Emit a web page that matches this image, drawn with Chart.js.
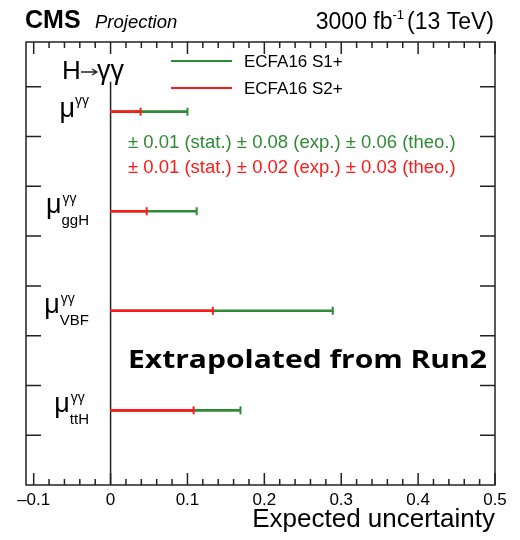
<!DOCTYPE html>
<html>
<head>
<meta charset="utf-8">
<script src="https://cdn.jsdelivr.net/npm/chart.js"></script>
<style>
html, body { margin: 0; padding: 0; background: #fff; }
</style>
</head>
<body>
<canvas id="chart" width="520" height="540"></canvas>
<script>
// measurements, top to bottom
const subscripts = ['', 'ggH', 'VBF', 'ttH'];
const rowPos = [3.75, 2.75, 1.75, 0.75];
const s1Values = [0.100, 0.112, 0.289, 0.169];
const s2Values = [0.039, 0.047, 0.133, 0.108];
const seriesNames = ['ECFA16 S1+', 'ECFA16 S2+'];
const breakdown = [
    '± 0.01 (stat.) ± 0.08 (exp.) ± 0.06 (theo.)',
    '± 0.01 (stat.) ± 0.02 (exp.) ± 0.03 (theo.)'
];
const xTicks = [-0.1, 0, 0.1, 0.2, 0.3, 0.4, 0.5];
const yTicks = [0.5, 1, 1.5, 2, 2.5, 3, 3.5, 4];

const GREEN = '#2f8a35';
const RED = '#ff1a1a';
const SANS = '"Liberation Sans", Arial, sans-serif';

const bars = (vals) => vals.map((v, i) => ({ x: [0, v], y: rowPos[i] }));
const caps = (vals) => vals.map((v, i) => ({ x: v, y: rowPos[i] }));

const deco = {
    id: 'deco',
    beforeDatasetsDraw(chart) {
        const { ctx, scales: { x, y } } = chart;
        ctx.save();
        ctx.strokeStyle = '#222';
        ctx.lineWidth = 1.5;
        const x0 = x.getPixelForValue(0);
        ctx.beginPath();
        ctx.moveTo(x0, y.getPixelForValue(4.05));
        ctx.lineTo(x0, y.bottom);
        ctx.stroke();
        ctx.restore();
    },
    afterDraw(chart) {
        const { ctx, chartArea: a, scales: { x, y } } = chart;
        ctx.save();

        // frame + ticks (ROOT style, pointing inward)
        ctx.strokeStyle = '#222';
        ctx.lineWidth = 1.5;
        ctx.strokeRect(a.left, a.top, a.right - a.left, a.bottom - a.top);
        ctx.beginPath();
        for (let i = -5; i <= 25; i++) {
            const px = x.getPixelForValue(i / 50);
            const len = i % 5 === 0 ? 12 : 6;
            ctx.moveTo(px, a.bottom); ctx.lineTo(px, a.bottom - len);
            ctx.moveTo(px, a.top); ctx.lineTo(px, a.top + len);
        }
        yTicks.forEach(v => {
            const py = y.getPixelForValue(v);
            ctx.moveTo(a.left, py); ctx.lineTo(a.left + 15, py);
            ctx.moveTo(a.right, py); ctx.lineTo(a.right - 15, py);
        });
        ctx.stroke();

        ctx.fillStyle = '#000';
        ctx.textBaseline = 'alphabetic';

        // header
        ctx.font = 'bold 25px ' + SANS;
        ctx.fillText('CMS', 25, 28);
        ctx.font = 'italic 18.5px ' + SANS;
        ctx.fillText('Projection', 95, 28);
        const big = '23px ' + SANS, small = '13px ' + SANS;
        ctx.font = big;
        const w1 = ctx.measureText('3000 fb').width;
        const w3 = ctx.measureText('(13 TeV)').width;
        ctx.font = small;
        const w2 = ctx.measureText('-1').width + 3;
        let hx = 494 - w1 - w2 - w3;
        ctx.font = big; ctx.fillText('3000 fb', hx, 29);
        ctx.font = small; ctx.fillText('-1', hx + w1, 19);
        ctx.font = big; ctx.fillText('(13 TeV)', hx + w1 + w2, 29);

        // H -> gamma gamma
        ctx.font = '26px ' + SANS;
        ctx.fillText('H', 62, 79);
        ctx.lineWidth = 1.3;
        ctx.beginPath();
        ctx.moveTo(81, 72); ctx.lineTo(97, 72);
        ctx.moveTo(92, 69); ctx.lineTo(97, 72); ctx.lineTo(92, 75);
        ctx.stroke();
        ctx.font = '27px ' + SANS;
        ctx.fillText('γγ', 97, 79);

        // row labels
        subscripts.forEach((sub, i) => {
            const ry = y.getPixelForValue(rowPos[i]);
            const right = 89;
            ctx.font = '27px ' + SANS;
            const mw = ctx.measureText('μ').width;
            if (!sub) {
                ctx.font = '14px ' + SANS;
                const sw = ctx.measureText('γγ').width;
                const sx = right - sw - mw;
                ctx.font = '27px ' + SANS;
                ctx.fillText('μ', sx, ry + 5);
                ctx.font = '14px ' + SANS;
                ctx.fillText('γγ', sx + mw, ry - 7);
            } else {
                ctx.font = '15px ' + SANS;
                const bw = ctx.measureText(sub).width;
                ctx.font = '14px ' + SANS;
                const sw = ctx.measureText('γγ').width;
                const sx = right - Math.max(bw, sw) - mw;
                ctx.font = '27px ' + SANS;
                ctx.fillText('μ', sx, ry + 2);
                ctx.font = '14px ' + SANS;
                ctx.fillText('γγ', sx + mw + 1, ry - 8);
                ctx.font = '15px ' + SANS;
                ctx.fillText(sub, sx + mw, ry + 14);
            }
        });

        // legend
        const legendY = [61, 88];
        [GREEN, RED].forEach((c, i) => {
            ctx.strokeStyle = c;
            ctx.lineWidth = 2;
            ctx.beginPath();
            ctx.moveTo(171, legendY[i]); ctx.lineTo(232, legendY[i]);
            ctx.stroke();
            ctx.fillStyle = '#000';
            ctx.font = '17px ' + SANS;
            ctx.textBaseline = 'middle';
            ctx.fillText(seriesNames[i], 244, legendY[i] + 1);
        });

        // uncertainty breakdown
        ctx.textBaseline = 'alphabetic';
        ctx.font = '18.5px ' + SANS;
        ctx.fillStyle = GREEN;
        ctx.fillText(breakdown[0], 128, 148);
        ctx.fillStyle = RED;
        ctx.fillText(breakdown[1], 128, 173);

        // note
        ctx.fillStyle = '#000';
        ctx.font = 'bold 25px "Open Sans", "DejaVu Sans", sans-serif';
        const note = 'Extrapolated from Run2';
        const nw = ctx.measureText(note).width;
        ctx.translate(128, 368);
        ctx.scale(359 / nw, 1);
        ctx.fillText(note, 0, 0);

        ctx.restore();
    }
};

new Chart(document.getElementById('chart'), {
    data: {
        datasets: [
            { type: 'bar', label: seriesNames[0], indexAxis: 'y', data: bars(s1Values), backgroundColor: GREEN, barThickness: 2, grouped: false, order: 4 },
            { type: 'bar', label: seriesNames[1], indexAxis: 'y', data: bars(s2Values), backgroundColor: RED, barThickness: 2, grouped: false, order: 3 },
            { type: 'scatter', data: caps(s1Values), pointStyle: 'line', rotation: 90, radius: 4, borderWidth: 2, borderColor: GREEN, order: 2 },
            { type: 'scatter', data: caps(s2Values), pointStyle: 'line', rotation: 90, radius: 4, borderWidth: 2, borderColor: RED, order: 1 }
        ]
    },
    options: {
        responsive: false,
        animation: false,
        layout: { padding: { left: 26, right: 25, top: 42, bottom: 0 } },
        plugins: { legend: { display: false }, tooltip: { enabled: false } },
        scales: {
            x: {
                type: 'linear',
                min: -0.11,
                max: 0.5,
                offset: false,
                grid: { display: false, drawTicks: false, offset: false },
                border: { display: false },
                afterBuildTicks: s => { s.ticks = xTicks.map(v => ({ value: v })); },
                afterFit: s => { s.height = 55; },
                ticks: {
                    padding: 5,
                    color: '#000',
                    font: { family: SANS, size: 17 },
                    callback: v => (v < 0 ? '–' + Math.abs(v) : String(v))
                },
                title: {
                    display: true,
                    text: 'Expected uncertainty',
                    align: 'end',
                    color: '#000',
                    font: { family: SANS, size: 26 },
                    padding: { top: 0, bottom: 5 }
                }
            },
            y: {
                type: 'linear',
                display: false,
                offset: false,
                grid: { offset: false },
                min: 0,
                max: 4.45
            }
        }
    },
    plugins: [deco]
});
</script>
</body>
</html>
